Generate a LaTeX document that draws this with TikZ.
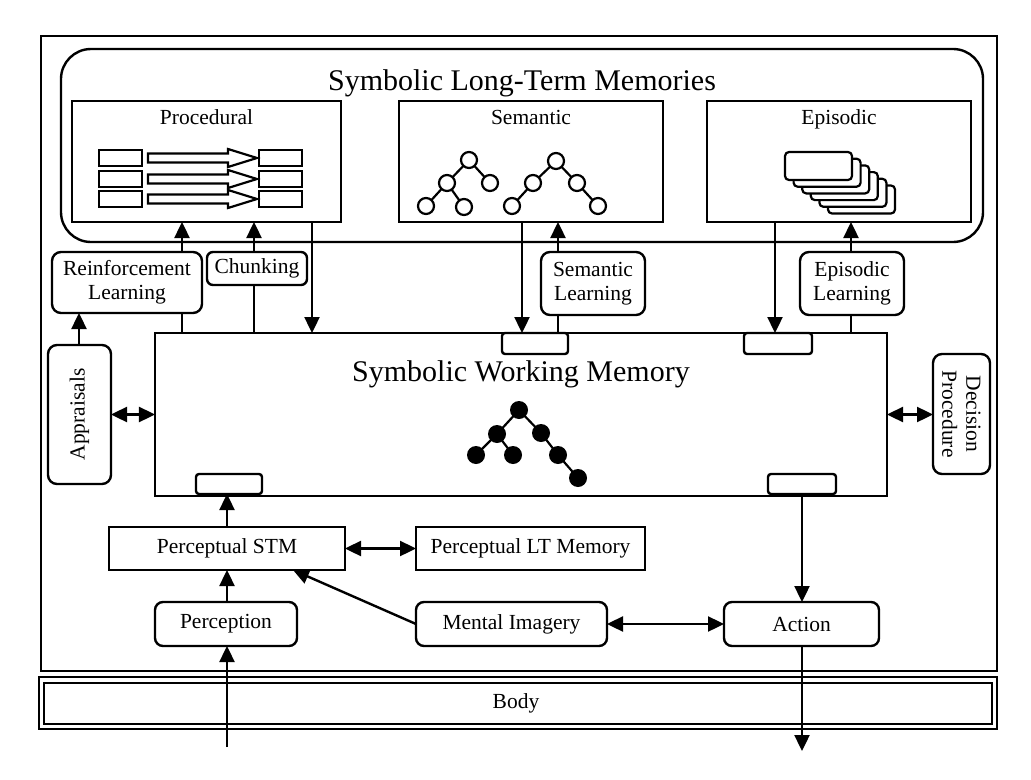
\documentclass[tikz,border=0pt]{standalone}
\usepackage{fontspec}
\setmainfont{Liberation Serif}
\usetikzlibrary{arrows.meta}
\newcommand\labfont{\fontsize{21.5bp}{24bp}\selectfont}
\newcommand\titfont{\fontsize{30bp}{34bp}\selectfont}
\begin{document}
\begin{tikzpicture}[x=1bp,y=-1bp,
  lw/.style={line width=2.4bp},
  sz/.style 2 args={minimum width=#1bp, minimum height=#2bp},
  box/.style={draw, lw, font=\labfont, align=center, inner sep=0pt, outer sep=0pt},
  rbox/.style={box, rounded corners=9bp},
  tab/.style={draw, lw, rounded corners=3bp, inner sep=0pt, outer sep=0pt, fill=white},
  lab/.style={font=\labfont, anchor=base, inner sep=0pt},
  wnode/.style={circle, draw, line width=2.2bp, fill=white, minimum size=16bp, inner sep=0pt},
  bnode/.style={circle, fill=black, minimum size=18bp, inner sep=0pt},
  tip/.style={Triangle[length=16bp,width=15bp]},
  arr/.style={lw, -{Triangle[length=16bp,width=15bp]}},
  darr/.style={lw, {Triangle[length=16bp,width=15bp]}-{Triangle[length=16bp,width=15bp]}},
  ]
\useasboundingbox (0,0) rectangle (1031,780);

% outer frame
\draw[line width=1.6bp] (41,36) rectangle (997,671);

% long-term memories
\node[box, rounded corners=30bp, sz={922}{193}] (ltm) at (522,145.5) {};
\node[font=\titfont, anchor=base, inner sep=0pt] (ltmt) at (522,91) {Symbolic Long-Term Memories};
\node[box, sz={269}{121}] (proc) at (206.5,161.5) {};
\node[box, sz={264}{121}] (sem) at (531,161.5) {};
\node[box, sz={264}{121}] (epi) at (839,161.5) {};
\node[lab] (procl) at (206.5,124) {Procedural};
\node[lab] (seml) at (531,124) {Semantic};
\node[lab] (epil) at (839,124) {Episodic};

% procedural icon
\foreach \c in {158,179,199}{
  \draw[line width=2.2bp] (99,{\c-8}) rectangle (142,{\c+8});
  \draw[line width=2.2bp] (259,{\c-8}) rectangle (302,{\c+8});
}
\foreach \c in {158,179,199}{
  \draw[line width=2.2bp, fill=white] (148,{\c-4.5}) -- (228,{\c-4.5}) -- (228,{\c-9}) -- (257,\c)
     -- (228,{\c+9}) -- (228,{\c+4.5}) -- (148,{\c+4.5}) -- cycle;
}

% semantic trees
\draw[line width=2.2bp] (469,160) -- (447,183) -- (426,206) (447,183) -- (464,207) (469,160) -- (490,183);
\draw[line width=2.2bp] (556,161) -- (533,183) -- (512,206) (556,161) -- (577,183) -- (598,206);
\node[wnode] (ta) at (469,160) {};
\node[wnode] (tb) at (447,183) {};
\node[wnode] (tc) at (490,183) {};
\node[wnode] (td) at (426,206) {};
\node[wnode] (te) at (464,207) {};
\node[wnode] (tf) at (556,161) {};
\node[wnode] (tg) at (533,183) {};
\node[wnode] (th) at (577,183) {};
\node[wnode] (ti) at (512,206) {};
\node[wnode] (tj) at (598,206) {};

% episodic stack
\foreach \k in {5,4,3,2,1,0}{
  \draw[line width=2.2bp, fill=white, rounded corners=4bp] ({785+8.6*\k},{152+6.7*\k}) rectangle ++(67,28);
}

% learning boxes
\node[rbox, sz={150}{61}] (rl) at (127,282.5) {Reinforcement\\Learning};
\node[rbox, rounded corners=6bp, sz={100}{33}] (chunk) at (257,268.5) {Chunking};
\node[rbox, sz={104}{63}] (seml2) at (593,283.5) {Semantic\\Learning};
\node[rbox, sz={104}{63}] (epil2) at (852,283.5) {Episodic\\Learning};

% working memory
\node[draw, line width=1.6bp, sz={732}{163}, inner sep=0pt, outer sep=0pt] (swm) at (521,414.5) {};
\node[font=\titfont, anchor=base, inner sep=0pt] (swmt) at (521,381) {Symbolic Working Memory};
\node[tab, sz={66}{21}] (semT) at (535,343.5) {};
\node[tab, sz={68}{21}] (epiT) at (778,343.5) {};
\node[tab, sz={66}{20}] (percT) at (229,484) {};
\node[tab, sz={68}{20}] (actT) at (802,484) {};

% black tree
\draw[line width=2.2bp] (519,410) -- (497,434) -- (476,455) (497,434) -- (513,455)
  (519,410) -- (541,433) -- (558,455) -- (578,478);
\node[bnode] (br) at (519,410) {};
\node[bnode] (bp) at (497,434) {};
\node[bnode] (bq) at (476,455) {};
\node[bnode] (bs) at (513,455) {};
\node[bnode] (bt) at (541,433) {};
\node[bnode] (bu) at (558,455) {};
\node[bnode] (bv) at (578,478) {};

% side boxes
\node[rbox, sz={63}{139}] (appr) at (79.5,414.5) {};
\node[font=\labfont, rotate=90, inner sep=0pt] (apprt) at (79.5,414.5) {Appraisals};
\node[rbox, sz={57}{120}] (dec) at (961.5,414) {};
\node[font=\labfont, rotate=-90, align=center, inner sep=0pt] (dect) at (961.5,414) {Decision\\Procedure};

% perceptual part
\node[box, sz={236}{43}] (stm) at (227,548.5) {Perceptual STM};
\node[box, sz={229}{43}] (plt) at (530.5,548.5) {Perceptual LT Memory};
\node[rbox, rounded corners=8bp, sz={142}{44}] (perc) at (226,624) {Perception};
\node[rbox, rounded corners=8bp, sz={191}{44}] (mi) at (511.5,624) {Mental Imagery};
\node[rbox, rounded corners=8bp, sz={155}{44}] (act) at (801.5,624) {Action};

% body
\draw[line width=2bp] (39,677) rectangle (997,729);
\draw[line width=2bp] (44,683) rectangle (992,724);
\node[font=\labfont] (body) at (516,703) {Body};

\coordinate (in) at (227,747);
\coordinate (out) at (802,751);

% connectors
\draw[arr] (proc.south -| 312,0) -- (swm.north -| 312,0);
\draw[arr] (rl.north -| 182,0) -- (proc.south -| 182,0);
\draw[lw] (swm.north -| 182,0) -- (rl.south -| 182,0);
\draw[arr] (chunk.north -| 254,0) -- (proc.south -| 254,0);
\draw[lw] (swm.north -| 254,0) -- (chunk.south -| 254,0);
\draw[arr] (sem.south -| 522,0) -- (semT.north -| 522,0);
\draw[arr] (seml2.north -| 558,0) -- (sem.south -| 558,0);
\draw[lw] (semT.north -| 558,0) -- (seml2.south -| 558,0);
\draw[arr] (epi.south -| 775,0) -- (epiT.north -| 775,0);
\draw[arr] (epil2.north -| 851,0) -- (epi.south -| 851,0);
\draw[lw] (swm.north -| 851,0) -- (epil2.south -| 851,0);
\draw[arr] (appr.north -| 79,0) -- (rl.south -| 79,0);
\draw[darr] (appr.east) -- (appr.east -| swm.west);
\draw[darr] (swm.east) -- (swm.east -| dec.west);
\draw[arr] (stm.north -| 227,0) -- (percT.south -| 227,0);
\draw[darr] (stm.east) -- (plt.west);
\draw[arr] (perc.north -| 227,0) -- (stm.south -| 227,0);
\draw[arr] (in) -- (in |- perc.south);
\draw[arr] (mi.west) -- (stm.south -| 293,0);
\draw[darr] (mi.east) -- (act.west);
\draw[arr] (actT.south) -- (act.north -| actT.south);
\draw[arr] (act.south -| out) -- (out);
\end{tikzpicture}
\end{document}
